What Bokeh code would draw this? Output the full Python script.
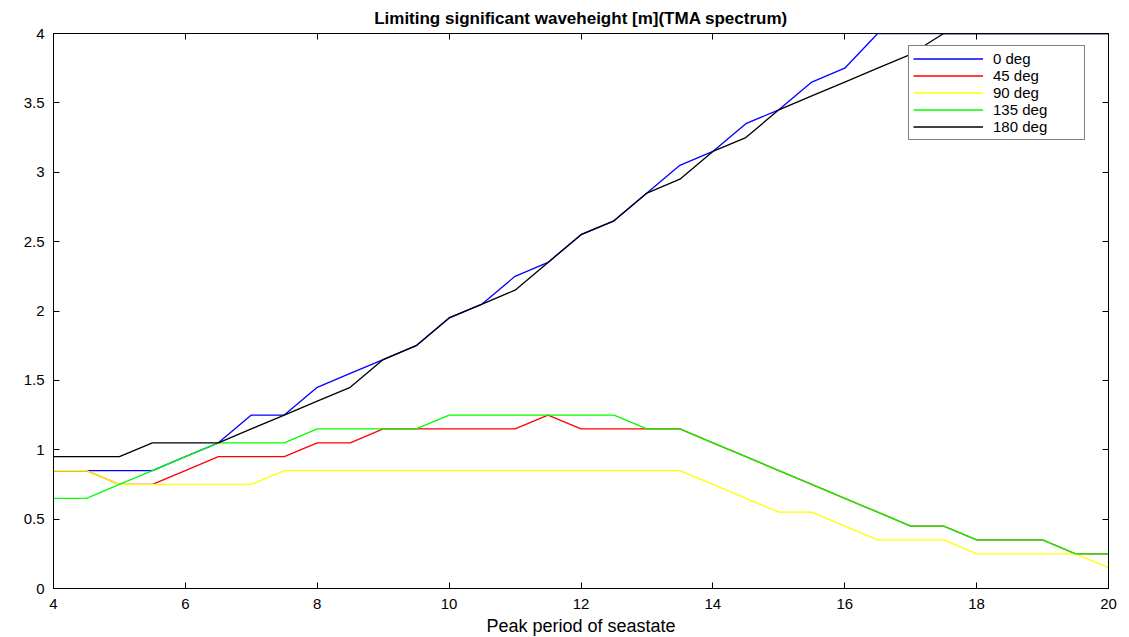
from bokeh.plotting import figure
from bokeh.models import (LinearAxis, FixedTicker, NumeralTickFormatter, Range1d,
                          Legend, LegendItem)
from bokeh.embed import file_html
from bokeh.resources import INLINE

period = [4.0, 4.5, 5.0, 5.5, 6.0, 6.5, 7.0, 7.5, 8.0, 8.5, 9.0, 9.5, 10.0, 10.5,
          11.0, 11.5, 12.0, 12.5, 13.0, 13.5, 14.0, 14.5, 15.0, 15.5, 16.0, 16.5,
          17.0, 17.5, 18.0, 18.5, 19.0, 19.5, 20.0]

hs_0deg = [0.85, 0.85, 0.85, 0.85, 0.95, 1.05, 1.25, 1.25, 1.45, 1.55, 1.65, 1.75,
           1.95, 2.05, 2.25, 2.35, 2.55, 2.65, 2.85, 3.05, 3.15, 3.35, 3.45, 3.65,
           3.75, 4.0, 4.0, 4.0, 4.0, 4.0, 4.0, 4.0, 4.0]
hs_45deg = [0.85, 0.85, 0.75, 0.75, 0.85, 0.95, 0.95, 0.95, 1.05, 1.05, 1.15, 1.15,
            1.15, 1.15, 1.15, 1.25, 1.15, 1.15, 1.15, 1.15, 1.05, 0.95, 0.85, 0.75,
            0.65, 0.55, 0.45, 0.45, 0.35, 0.35, 0.35, 0.25, 0.25]
hs_90deg = [0.85, 0.85, 0.75, 0.75, 0.75, 0.75, 0.75, 0.85, 0.85, 0.85, 0.85, 0.85,
            0.85, 0.85, 0.85, 0.85, 0.85, 0.85, 0.85, 0.85, 0.75, 0.65, 0.55, 0.55,
            0.45, 0.35, 0.35, 0.35, 0.25, 0.25, 0.25, 0.25, 0.15]
hs_135deg = [0.65, 0.65, 0.75, 0.85, 0.95, 1.05, 1.05, 1.05, 1.15, 1.15, 1.15, 1.15,
             1.25, 1.25, 1.25, 1.25, 1.25, 1.25, 1.15, 1.15, 1.05, 0.95, 0.85, 0.75,
             0.65, 0.55, 0.45, 0.45, 0.35, 0.35, 0.35, 0.25, 0.25]
hs_180deg = [0.95, 0.95, 0.95, 1.05, 1.05, 1.05, 1.15, 1.25, 1.35, 1.45, 1.65, 1.75,
             1.95, 2.05, 2.15, 2.35, 2.55, 2.65, 2.85, 2.95, 3.15, 3.25, 3.45, 3.55,
             3.65, 3.75, 3.85, 4.0, 4.0, 4.0, 4.0, 4.0, 4.0]

series_names = ["0 deg", "45 deg", "90 deg", "135 deg", "180 deg"]
series_values = [hs_0deg, hs_45deg, hs_90deg, hs_135deg, hs_180deg]
series_colors = ["#0000ff", "#ff0000", "#ffff00", "#00ff00", "#000000"]

x_ticks = [4, 6, 8, 10, 12, 14, 16, 18, 20]
y_ticks = [0, 0.5, 1, 1.5, 2, 2.5, 3, 3.5, 4]

FONT = "Liberation Sans"

p = figure(frame_width=1055, frame_height=555,
           x_range=Range1d(4, 20), y_range=Range1d(0, 4),
           output_backend="svg", toolbar_location=None,
           min_border_left=53, min_border_right=20, min_border_top=33,
           min_border_bottom=48)

p.title.text = "Limiting significant waveheight [m](TMA spectrum)"
p.title.align = "center"
p.title.vertical_align = "middle"
p.title.text_font = FONT
p.title.text_font_size = "17px"
p.title.text_font_style = "bold"
p.title.text_color = "black"
p.title.standoff = 9

p.xgrid.visible = False
p.ygrid.visible = False
p.outline_line_color = "black"
p.outline_line_width = 1
p.background_fill_color = "white"
p.border_fill_color = "white"

renderers = []
for name, vals, col in zip(series_names, series_values, series_colors):
    r = p.line(period, vals, line_color=col, line_width=1.3)
    renderers.append((name, r))

p.add_layout(LinearAxis(), "above")
p.add_layout(LinearAxis(), "right")

for ax in p.xaxis:
    ax.ticker = FixedTicker(ticks=x_ticks)
for ax in p.yaxis:
    ax.ticker = FixedTicker(ticks=y_ticks)
    ax.formatter = NumeralTickFormatter(format="0.[0]")

for ax in p.axis:
    ax.axis_line_color = "black"
    ax.axis_line_width = 1
    ax.major_tick_line_color = "black"
    ax.major_tick_in = 6
    ax.major_tick_out = 0
    ax.minor_tick_line_color = None
    ax.major_label_text_font = FONT
    ax.major_label_text_font_size = "15px"
    ax.major_label_text_color = "black"

p.above[0].major_label_text_font_size = "0px"
p.above[0].major_label_text_color = None
p.right[0].major_label_text_font_size = "0px"
p.right[0].major_label_text_color = None

p.below[0].axis_label = "Peak period of seastate"
p.below[0].axis_label_text_font = FONT
p.below[0].axis_label_text_font_size = "18px"
p.below[0].axis_label_text_font_style = "normal"
p.below[0].axis_label_text_color = "black"
p.below[0].axis_label_standoff = 4
p.below[0].major_label_standoff = 10
p.left[0].major_label_standoff = 9

legend = Legend(items=[LegendItem(label=n, renderers=[r]) for n, r in renderers],
                location=(855, 448))
legend.border_line_color = "black"
legend.border_line_width = 1
legend.background_fill_color = "white"
legend.background_fill_alpha = 1
legend.label_text_font = FONT
legend.label_text_font_size = "15px"
legend.label_text_color = "black"
legend.glyph_width = 70
legend.glyph_height = 17
legend.label_height = 17
legend.label_width = 87
legend.label_standoff = 10
legend.padding = 4
legend.spacing = 0
legend.margin = 0
p.add_layout(legend)

open("out.html", "w").write(file_html(p, INLINE))
